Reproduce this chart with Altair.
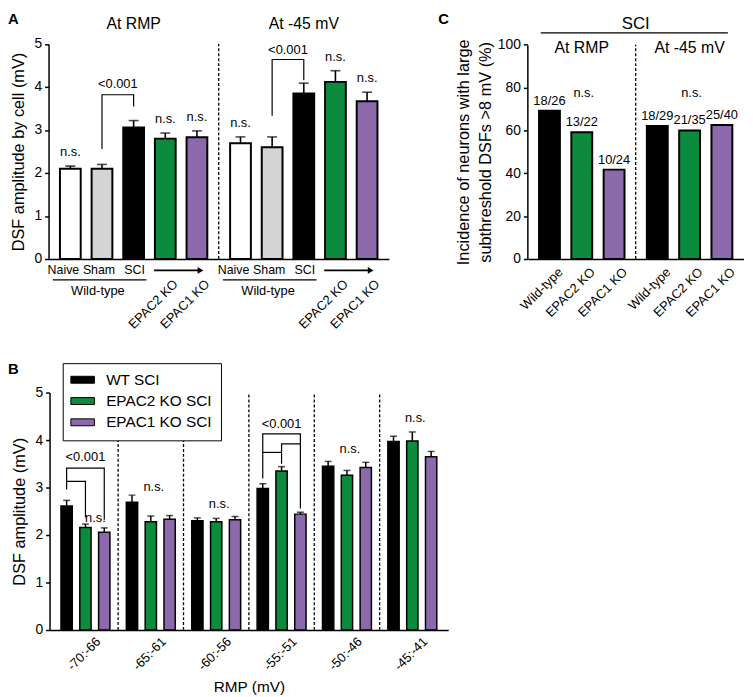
import altair as alt
import pandas as pd

FONT = "Liberation Sans"
GREEN = "#0c8a3e"
PURPLE = "#8b69ab"
GRAY = "#d4d4d4"

# ---------------- Panel A : DSF amplitude by cell ----------------
a_conditions = ["At RMP", "At -45 mV"]
a_groups = ["Naive", "Sham", "SCI", "EPAC2 KO", "EPAC1 KO"]
a_rmp_mean = [2.10, 2.10, 3.06, 2.80, 2.83]
a_rmp_sem = [0.06, 0.10, 0.16, 0.13, 0.15]
a_m45_mean = [2.69, 2.60, 3.85, 4.12, 3.67]
a_m45_sem = [0.15, 0.24, 0.24, 0.26, 0.21]
a_rmp_sig = ["n.s.", "", "", "n.s.", "n.s."]
a_m45_sig = ["n.s.", "", "", "n.s.", "n.s."]
a_wt_labels = ["Naive", "Sham", "SCI"]
a_ko_labels = ["EPAC2 KO", "EPAC1 KO"]
a_colors = ["white", GRAY, "black", GREEN, PURPLE]
a_brackets = [
    ("At RMP", [("Sham", 2.56), ("Sham", 3.82), ("SCI", 3.82), ("SCI", 3.55)]),
    ("At -45 mV", [("Sham", 3.33), ("Sham", 4.64), ("SCI", 4.64), ("SCI", 4.16)]),
]
a_p_labels = [("At RMP", "Sham", 4.06, "<0.001"), ("At -45 mV", "Sham", 4.87, "<0.001")]

# ---------------- Panel B : DSF amplitude by RMP bin ----------------
b_bins = ["-70:-66", "-65:-61", "-60:-56", "-55:-51", "-50:-46", "-45:-41"]
b_series = ["WT SCI", "EPAC2 KO SCI", "EPAC1 KO SCI"]
b_wt_mean = [2.61, 2.69, 2.30, 2.98, 3.45, 3.97]
b_wt_sem = [0.12, 0.15, 0.06, 0.10, 0.10, 0.11]
b_e2_mean = [2.16, 2.28, 2.28, 3.35, 3.26, 3.98]
b_e2_sem = [0.07, 0.12, 0.07, 0.09, 0.10, 0.19]
b_e1_mean = [2.06, 2.33, 2.32, 2.44, 3.42, 3.65]
b_e1_sem = [0.09, 0.08, 0.07, 0.04, 0.11, 0.11]
b_colors = ["black", GREEN, PURPLE]
b_brackets = [
    ("-70:-66", [("WT SCI", 2.96), ("WT SCI", 3.41), ("EPAC1 KO SCI", 3.41), ("EPAC1 KO SCI", 2.32)]),
    ("-70:-66", [("WT SCI", 3.13), ("EPAC2 KO SCI", 3.13), ("EPAC2 KO SCI", 2.37)]),
    ("-55:-51", [("WT SCI", 3.19), ("WT SCI", 4.13), ("EPAC1 KO SCI", 4.13), ("EPAC1 KO SCI", 2.56)]),
    ("-55:-51", [("WT SCI", 3.74), ("EPAC2 KO SCI", 3.74)]),
    ("-55:-51", [("EPAC2 KO SCI", 3.50), ("EPAC2 KO SCI", 3.92), ("EPAC1 KO SCI", 3.92)]),
]
b_p_labels = [("-70:-66", 3.64, "<0.001"), ("-55:-51", 4.33, "<0.001")]
b_ns_labels = [("-65:-61", 3.01), ("-60:-56", 2.65), ("-50:-46", 3.81), ("-45:-41", 4.46)]
b_pair_ns = [("-70:-66", 2.35)]

# ---------------- Panel C : incidence of large DSFs ----------------
c_conditions = ["At RMP", "At -45 mV"]
c_groups = ["Wild-type", "EPAC2 KO", "EPAC1 KO"]
c_rmp_pct = [69.2, 59.1, 41.7]
c_m45_pct = [62.1, 60.0, 62.5]
c_rmp_frac = ["18/26", "13/22", "10/24"]
c_m45_frac = ["18/29", "21/35", "25/40"]
c_colors = ["black", GREEN, PURPLE]
c_ns_y = 77.2

# ================= data tables =================
df_a = pd.DataFrame({
    "cond": [c for c in a_conditions for _ in a_groups],
    "grp": a_groups * 2,
    "mean": a_rmp_mean + a_m45_mean,
    "sem": a_rmp_sem + a_m45_sem,
    "sig": a_rmp_sig + a_m45_sig,
})
df_a["top"] = df_a["mean"] + df_a["sem"]
df_a_ko = df_a[df_a["grp"].isin(a_ko_labels)]
rows = []
for i, (cond, pts) in enumerate(a_brackets):
    for k, (g, y) in enumerate(pts):
        rows.append({"seg": i, "k": k, "cond": cond, "grp": g, "y": y})
df_a_br = pd.DataFrame(rows)
df_a_p = pd.DataFrame(a_p_labels, columns=["cond", "grp", "y", "txt"])
df_a_cond = pd.DataFrame({"cond": a_conditions, "y0": 0, "y1": 5})

b_means = [b_wt_mean, b_e2_mean, b_e1_mean]
b_sems = [b_wt_sem, b_e2_sem, b_e1_sem]
rows = []
for s, ms, ss in zip(b_series, b_means, b_sems):
    for b, m, e in zip(b_bins, ms, ss):
        rows.append({"bin": b, "ser": s, "mean": m, "top": m + e})
df_b = pd.DataFrame(rows)
rows = []
for i, (b, pts) in enumerate(b_brackets):
    for k, (s, y) in enumerate(pts):
        rows.append({"seg": i, "k": k, "bin": b, "ser": s, "y": y})
df_b_br = pd.DataFrame(rows)
df_b_p = pd.DataFrame(b_p_labels, columns=["bin", "y", "txt"])
df_b_p["ser"] = "EPAC2 KO SCI"
df_b_ns = pd.DataFrame(b_ns_labels, columns=["bin", "y"])
df_b_ns["ser"] = "EPAC2 KO SCI"
df_b_ns["txt"] = "n.s."
df_b_pair = pd.DataFrame(b_pair_ns, columns=["bin", "y"])
df_b_pair["ser"] = "EPAC1 KO SCI"
df_b_pair["txt"] = "n.s."
df_b_div = pd.DataFrame({"bin": b_bins[1:], "y0": 0, "y1": 5})

df_c = pd.DataFrame({
    "cond": [c for c in c_conditions for _ in c_groups],
    "grp": c_groups * 2,
    "pct": c_rmp_pct + c_m45_pct,
    "frac": c_rmp_frac + c_m45_frac,
})
df_c_ns = pd.DataFrame({"cond": c_conditions, "grp": "EPAC2 KO", "y": c_ns_y, "txt": "n.s."})
df_c_cond = pd.DataFrame({"cond": c_conditions, "cond2": c_conditions[::-1], "y0": 0, "y1": 100, "txt": "SCI"})

# ================= Panel A chart =================
ax_scale = alt.Scale(domain=a_conditions, range=[41, 385], paddingInner=0, paddingOuter=0)
axo_scale = alt.Scale(domain=a_groups, range=[0, 172], paddingInner=0.344, paddingOuter=0.36)
ay_scale = alt.Scale(domain=[0, 5], range=[250, 32.7], nice=False, zero=False)
ax_axis = alt.Axis(orient="bottom", offset=-439, labels=False, ticks=False, title=None)
ay_axis = alt.Axis(orient="left", offset=-41, values=[0, 1, 2, 3, 4, 5], format="d",
                   title="DSF amplitude by cell (mV)", titlePadding=8)


def AX(**kw):
    return alt.X("cond:N", scale=ax_scale, axis=ax_axis, **kw)


def AXO():
    return alt.XOffset("grp:N", scale=axo_scale)


def AY(f):
    return alt.Y(f, scale=ay_scale, axis=ay_axis)


a_bars = alt.Chart(df_a).mark_bar(stroke="black", strokeWidth=2).encode(
    x=AX(), xOffset=AXO(), y=AY("mean:Q"),
    color=alt.Color("grp:N", scale=alt.Scale(domain=a_groups, range=a_colors), legend=None),
)
a_err = alt.Chart(df_a).mark_rule(color="black", strokeWidth=1.6).encode(
    x=AX(), xOffset=AXO(), y=AY("mean:Q"), y2="top:Q")
a_cap = alt.Chart(df_a).mark_tick(color="black", thickness=1.6, size=10).encode(
    x=AX(), xOffset=AXO(), y=AY("top:Q"))
a_sig = alt.Chart(df_a).mark_text(fontSize=13, dy=-14, font=FONT).encode(
    x=AX(), xOffset=AXO(), y=AY("top:Q"), text="sig:N")
a_br = alt.Chart(df_a_br).mark_line(color="black", strokeWidth=1.2).encode(
    x=AX(), xOffset=AXO(), y=AY("y:Q"), detail="seg:N", order="k:Q")
a_p = alt.Chart(df_a_p).mark_text(fontSize=13, dx=16, font=FONT).encode(
    x=AX(), xOffset=AXO(), y=AY("y:Q"), text="txt:N")
a_div = alt.Chart(df_a_cond[df_a_cond["cond"] == a_conditions[1]]).mark_rule(
    color="black", strokeWidth=1.3, strokeDash=[3, 2]).encode(
    x=AX(bandPosition=0), y=AY("y0:Q"), y2="y1:Q")
a_title = alt.Chart(df_a_cond).mark_text(fontSize=16, font=FONT).encode(
    x=AX(), y=alt.value(12.7), text="cond:N")
# labels under the wild-type bars, nudged as in the original layout
wt_nudge = {"Naive": -7, "Sham": -3, "SCI": 1}
a_wtlab = [
    alt.Chart(df_a[df_a["grp"] == g]).mark_text(fontSize=12.5, font=FONT, dx=wt_nudge[g]).encode(
        x=AX(), xOffset=AXO(), y=alt.value(261), text="grp:N")
    for g in a_wt_labels
]
a_kolab = alt.Chart(df_a_ko).mark_text(fontSize=13, font=FONT, angle=315, align="right",
                                       baseline="top", dx=4.5, dy=4.5).encode(
    x=AX(), xOffset=AXO(), y=alt.value(269), text="grp:N")
a_uline = alt.Chart(df_a_cond).mark_rule(color="black", strokeWidth=1.2).encode(
    x=AX(bandPosition=0.025), x2=alt.X2("cond:N", bandPosition=0.575), y=alt.value(271))
a_wtname = alt.Chart(df_a_cond).mark_text(fontSize=13, font=FONT).encode(
    x=AX(bandPosition=0.29), y=alt.value(282), text=alt.value("Wild-type"))
a_arrow = alt.Chart(df_a_cond).mark_rule(color="black", strokeWidth=1.6).encode(
    x=AX(bandPosition=0.62), x2=alt.X2("cond:N", bandPosition=0.89), y=alt.value(261.5))
a_head = alt.Chart(df_a_cond).mark_point(shape="triangle-right", filled=True, size=45,
                                         color="black", opacity=1).encode(
    x=AX(bandPosition=0.893), y=alt.value(261.5))

panel_a = alt.layer(a_err, a_cap, a_bars, a_sig, a_br, a_p, a_div, a_title,
                    *a_wtlab, a_kolab, a_uline, a_wtname, a_arrow, a_head)

# ================= Panel B chart =================
bx_scale = alt.Scale(domain=b_bins, range=[42, 445], paddingInner=0, paddingOuter=0.049)
bxo_scale = alt.Scale(domain=b_series, range=[0, 66.08], paddingInner=0.4, paddingOuter=0.437)
by_scale = alt.Scale(domain=[0, 5], range=[625, 385], nice=False, zero=False)
bx_axis = alt.Axis(orient="bottom", offset=-64, ticks=False, labelAngle=315, labelFontSize=13,
                   labelPadding=5, labelOffset=9, title="RMP (mV)", titlePadding=7,
                   titleFontSize=15.5)
by_axis = alt.Axis(orient="left", offset=-42, values=[0, 1, 2, 3, 4, 5], format="d",
                   title="DSF amplitude (mV)", titlePadding=8)


def BX(**kw):
    return alt.X("bin:N", scale=bx_scale, axis=bx_axis, **kw)


def BXO():
    return alt.XOffset("ser:N", scale=bxo_scale)


def BY(f):
    return alt.Y(f, scale=by_scale, axis=by_axis)


b_legend = alt.Legend(
    title=None, orient="none", legendX=55.3, legendY=355.3, padding=9,
    strokeColor="black", fillColor="white", labelFontSize=15.5, labelFont=FONT,
    labelColor="black", symbolType="M-3.4,-1H3.4V1H-3.4Z", symbolSize=49,
    symbolStrokeColor="black", symbolStrokeWidth=1, symbolOffset=3.4,
    labelOffset=16, rowPadding=4.5,
)
b_bars = alt.Chart(df_b).mark_bar(stroke="black", strokeWidth=1.5).encode(
    x=BX(), xOffset=BXO(), y=BY("mean:Q"),
    color=alt.Color("ser:N", scale=alt.Scale(domain=b_series, range=b_colors), legend=b_legend),
)
b_err = alt.Chart(df_b).mark_rule(color="black", strokeWidth=1.5).encode(
    x=BX(), xOffset=BXO(), y=BY("mean:Q"), y2="top:Q")
b_cap = alt.Chart(df_b).mark_tick(color="black", thickness=1.5, size=7).encode(
    x=BX(), xOffset=BXO(), y=BY("top:Q"))
b_br = alt.Chart(df_b_br).mark_line(color="black", strokeWidth=1.2).encode(
    x=BX(), xOffset=BXO(), y=BY("y:Q"), detail="seg:N", order="k:Q")
b_p = alt.Chart(df_b_p).mark_text(fontSize=13, font=FONT).encode(
    x=BX(), xOffset=BXO(), y=BY("y:Q"), text="txt:N")
b_ns = alt.Chart(df_b_ns).mark_text(fontSize=13, font=FONT, dx=3).encode(
    x=BX(), xOffset=BXO(), y=BY("y:Q"), text="txt:N")
b_pair = alt.Chart(df_b_pair).mark_text(fontSize=13, font=FONT, dx=-9).encode(
    x=BX(), xOffset=BXO(), y=BY("y:Q"), text="txt:N")
b_div = alt.Chart(df_b_div).mark_rule(color="black", strokeWidth=1.3, strokeDash=[3, 2]).encode(
    x=BX(bandPosition=0), y=BY("y0:Q"), y2="y1:Q")

panel_b = alt.layer(b_err, b_cap, b_bars, b_br, b_p, b_ns, b_pair, b_div)

# ================= Panel C chart =================
cx_scale = alt.Scale(domain=c_conditions, range=[525.5, 743.5], paddingInner=0, paddingOuter=0)
cxo_scale = alt.Scale(domain=c_groups, range=[0, 109], paddingInner=0.354, paddingOuter=0.346)
cy_scale = alt.Scale(domain=[0, 100], range=[250, 33.3], nice=False, zero=False)
cx_axis = alt.Axis(orient="bottom", offset=-439, labels=False, ticks=False, title=None)
cy_axis = alt.Axis(orient="left", offset=-525, values=[0, 20, 40, 60, 80, 100], format="d",
                   title=["Incidence of neurons with large", "subthreshold DSFs >8 mV (%)"],
                   titlePadding=4, titleLineHeight=22)


def CX(**kw):
    return alt.X("cond:N", scale=cx_scale, axis=cx_axis, **kw)


def CXO():
    return alt.XOffset("grp:N", scale=cxo_scale)


def CY(f):
    return alt.Y(f, scale=cy_scale, axis=cy_axis)


c_bars = alt.Chart(df_c).mark_bar(stroke="black", strokeWidth=2).encode(
    x=CX(), xOffset=CXO(), y=CY("pct:Q"),
    color=alt.Color("grp:N", scale=alt.Scale(domain=c_groups, range=c_colors), legend=None),
)
c_frac = alt.Chart(df_c).mark_text(fontSize=13, font=FONT, dy=-10).encode(
    x=CX(), xOffset=CXO(), y=CY("pct:Q"), text="frac:N")
c_lab = alt.Chart(df_c).mark_text(fontSize=13, font=FONT, angle=315, align="right",
                                  baseline="top", dx=5, dy=5).encode(
    x=CX(), xOffset=CXO(), y=alt.value(257), text="grp:N")
c_ns = alt.Chart(df_c_ns).mark_text(fontSize=13, font=FONT, dx=2).encode(
    x=CX(), xOffset=CXO(), y=CY("y:Q"), text="txt:N")
c_div = alt.Chart(df_c_cond[df_c_cond["cond"] == c_conditions[1]]).mark_rule(
    color="black", strokeWidth=1.3, strokeDash=[3, 2]).encode(
    x=CX(bandPosition=0), y=CY("y0:Q"), y2="y1:Q")
c_sub = alt.Chart(df_c_cond).mark_text(fontSize=16, font=FONT).encode(
    x=CX(), y=alt.value(37), text="cond:N")
c_sci = alt.Chart(df_c_cond[df_c_cond["cond"] == c_conditions[1]]).mark_text(
    fontSize=17, font=FONT).encode(x=CX(bandPosition=0), y=alt.value(12), text="txt:N")
c_over = alt.Chart(df_c_cond[df_c_cond["cond"] == c_conditions[0]]).mark_rule(
    color="black", strokeWidth=1.3).encode(
    x=CX(bandPosition=0.12), x2=alt.X2("cond2:N", bandPosition=0.855), y=alt.value(21.3))

panel_c = alt.layer(c_bars, c_frac, c_lab, c_ns, c_div, c_sub, c_sci, c_over)

# ================= panel letters =================
df_letters = pd.DataFrame({"txt": ["A", "B", "C"]})
letter_pos = {"A": (0, 0), "B": (0, 354), "C": (435, 0)}
letters = alt.layer(*[
    alt.Chart(df_letters[df_letters.txt == t]).mark_text(
        fontSize=15, fontWeight="bold", font=FONT, align="left", baseline="top").encode(
        x=alt.value(letter_pos[t][0]), y=alt.value(letter_pos[t][1]), text="txt:N")
    for t in ["A", "B", "C"]
])

chart = alt.layer(panel_a, panel_b, panel_c, letters).resolve_scale(
    x="independent", y="independent", xOffset="independent", color="independent"
).resolve_axis(x="independent", y="independent").properties(
    width=745, height=689, autosize=alt.AutoSizeParams(type="none"), padding=0
).configure_view(stroke=None).configure_axis(
    grid=False, domainColor="black", tickColor="black", labelColor="black", titleColor="black",
    labelFont=FONT, titleFont=FONT, titleFontWeight="normal", domainWidth=1.5, tickWidth=1.5,
    tickSize=4, labelPadding=3, labelFontSize=14, titleFontSize=16.5
).configure_text(color="black")

chart.save("out.html", embed_options={"renderer": "svg", "actions": False})
